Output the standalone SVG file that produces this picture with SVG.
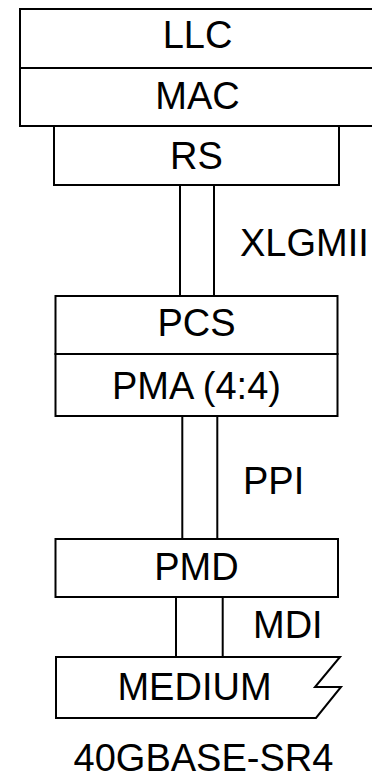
<svg xmlns="http://www.w3.org/2000/svg" width="372" height="775" viewBox="0 0 372 775">
<style>
.b{fill:none;stroke:#000;stroke-width:2}
.t{font-family:"Liberation Sans",Arial,sans-serif;font-size:38px;fill:#000}
.m{text-anchor:middle}
</style>
<rect width="372" height="775" fill="#fff"/>
<g id="llc"><rect class="b" x="20" y="9" width="360" height="59"/><text class="t m" x="197.5" y="48">LLC</text></g>
<g id="mac"><rect class="b" x="20" y="68" width="360" height="58"/><text class="t m" x="197.5" y="108.5">MAC</text></g>
<g id="rs"><path class="b" d="M54,126 V185 H339 V126"/><text class="t m" x="196.5" y="168.5">RS</text></g>
<g id="pcs"><rect class="b" x="55.5" y="296" width="282" height="58"/><text class="t m" x="196.5" y="335.5">PCS</text></g>
<g id="pma"><rect class="b" x="55.5" y="354" width="282" height="62"/><text class="t m" x="196.5" y="398.5">PMA (4:4)</text></g>
<g id="pmd"><rect class="b" x="55.5" y="539" width="282.5" height="58"/><text class="t m" x="196.5" y="579.5">PMD</text></g>
<g id="medium"><path class="b" d="M56,657 H340 L315,687 H341 L316,718 H56 Z"/><text class="t m" x="194.5" y="699.5">MEDIUM</text></g>
<g id="connectors">
<path class="b" d="M180,185 V296 M214,185 V296"/>
<path class="b" d="M182.3,416 V539 M217.3,416 V539"/>
<path class="b" d="M176,597 V657 M222.7,597 V657"/>
</g>
<g id="labels">
<text class="t" x="240" y="256">XLGMII</text>
<text class="t" x="243" y="494">PPI</text>
<text class="t" x="253" y="638">MDI</text>
<text class="t m" x="203.5" y="771">40GBASE-SR4</text>
</g>
</svg>
